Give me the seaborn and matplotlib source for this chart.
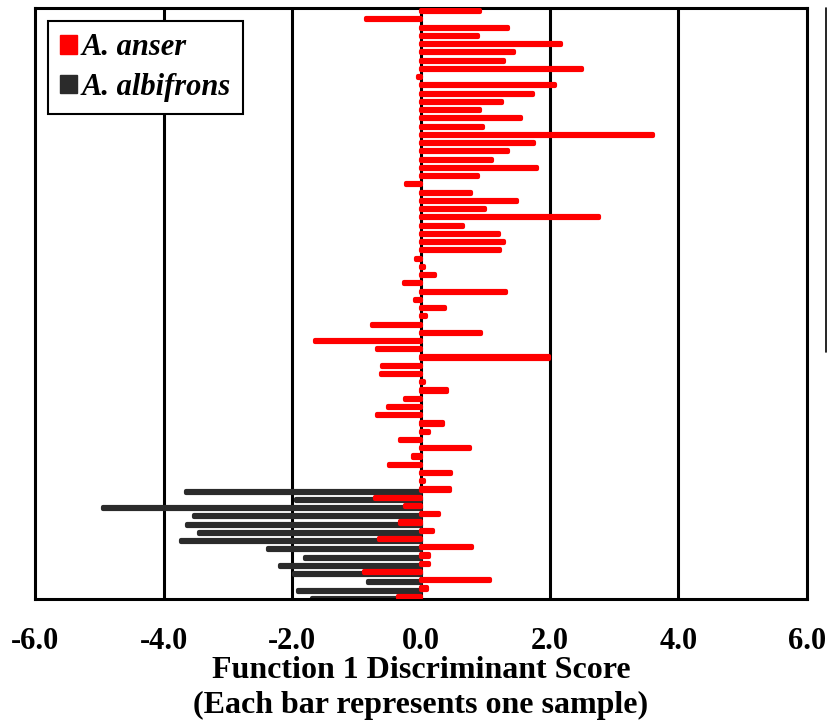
import pandas as pd
import seaborn as sns
import matplotlib.pyplot as plt
from matplotlib.lines import Line2D

# discriminant scores, one bar per sample (top to bottom)
anser = [0.92, -0.86, 1.35, 0.88, 2.17, 1.45, 1.29, 2.51, -0.05, 2.08,
         1.74, 1.26, 0.91, 1.55, 0.97, 3.61, 1.76, 1.36, 1.10, 1.81,
         0.89, -0.24, 0.77, 1.50, 1.00, 2.77, 0.66, 1.21, 1.29, 1.23,
         -0.07, 0.04, 0.22, -0.26, 1.32, -0.09, 0.38, 0.08, -0.76, 0.94,
         -1.65, -0.69, 1.99, -0.61, -0.62, 0.04, 0.40, -0.25, -0.51, -0.69,
         0.34, 0.13, -0.32, 0.76, -0.13, -0.50, 0.47, 0.05, 0.45, -0.72,
         -0.25, 0.28, -0.32, 0.18, -0.65, 0.80, 0.13, 0.12, -0.89, 1.07,
         0.10, -0.36]
albifrons = [-3.66, -1.94, -4.95, -3.53, -3.64, -3.45, -3.73, -2.38, -1.80, -2.19,
             -1.98, -0.83, -1.91, -1.69]
ticks = [-6, -4, -2, 0, 2, 4, 6]
tick_labels = ['-6.0', '-4.0', '-2.0', '0.0', '2.0', '4.0', '6.0']

n = len(anser)
samples = [str(i + 1) for i in range(n)]
df = pd.DataFrame({
    'sample': samples + samples[n - len(albifrons):],
    'score': anser + albifrons,
    'species': ['A. anser'] * n + ['A. albifrons'] * len(albifrons),
})

sns.set_style('white')
plt.rcParams['font.family'] = ['Liberation Serif', 'DejaVu Serif']
plt.rcParams['font.weight'] = 'bold'
plt.rcParams['text.color'] = 'black'
plt.rcParams['axes.labelcolor'] = 'black'
plt.rcParams['xtick.color'] = 'black'

fig = plt.figure(figsize=(8.28, 7.22), dpi=100)
ax = fig.add_axes([35 / 828, 1 - 599 / 722, 772 / 828, 591 / 722])

for t in [-4, -2, 0, 2, 4]:
    ax.axvline(t, color='black', lw=2.2, zorder=0)

colors = {'A. anser': '#ff0000', 'A. albifrons': '#2b2b2b'}
sns.barplot(data=df, x='score', y='sample', hue='species', orient='h',
            order=samples, hue_order=['A. anser', 'A. albifrons'],
            palette=colors, saturation=1, dodge=True, width=0.5, ax=ax)

for p in ax.patches:
    fc = p.get_facecolor()
    p.set_edgecolor(fc)
    p.set_linewidth(3.0)
    p.set_joinstyle('round')
    p.set_zorder(3 if fc[0] > 0.9 else 2)

ax.set_xlim(-6, 6)
ax.set_ylim(71.15, -0.5)
ax.set_yticks([])
ax.set_ylabel('')
ax.set_xticks(ticks)
ax.set_xticklabels(tick_labels, fontsize=22, fontweight='bold')
ax.tick_params(axis='x', length=0, pad=20)
ax.set_xlabel('Function 1 Discriminant Score\n(Each bar represents one sample)',
              fontsize=23, fontweight='bold', labelpad=0, linespacing=1.3)
for s in ax.spines.values():
    s.set_visible(True)
    s.set_color('black')
    s.set_linewidth(2.2)

handles = [plt.Rectangle((0, 0), 1, 1, color=colors[k]) for k in ['A. anser', 'A. albifrons']]
leg = ax.legend(handles, ['A. anser', 'A. albifrons'], loc='upper left',
                bbox_to_anchor=(13 / 772, 1 - 13 / 591), borderaxespad=0,
                prop={'family': 'Liberation Serif', 'weight': 'bold', 'style': 'italic', 'size': 22},
                handlelength=0.55, handleheight=0.55, handletextpad=0.15,
                labelspacing=0.35, borderpad=0.4, fancybox=False, framealpha=1)
leg.get_frame().set_edgecolor('black')
leg.get_frame().set_linewidth(1.5)
leg.set_zorder(5)

fig.add_artist(Line2D([826.5 / 828, 826.5 / 828], [1 - 8 / 722, 1 - 352 / 722],
                      color='black', lw=1.2))

fig.savefig('out.png', dpi=100)
